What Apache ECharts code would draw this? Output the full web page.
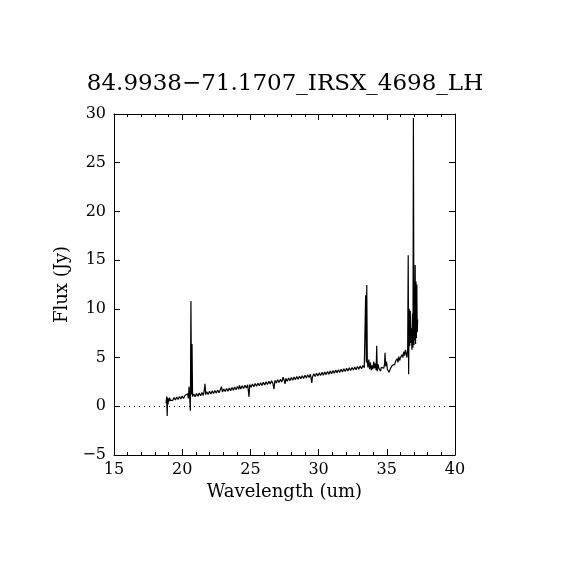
<!DOCTYPE html>
<html>
<head>
<meta charset="utf-8">
<script src="https://cdn.jsdelivr.net/npm/echarts@6/dist/echarts.min.js"></script>
<style>
  html, body { margin: 0; padding: 0; background: #fff; }
  #chart { width: 570px; height: 570px; }
</style>
</head>
<body>
<div id="chart"></div>
<script>
// spectrum (um, Jy)
const wavelength = [
  18.82, 18.86, 18.90, 18.93, 18.96, 19.00, 19.04, 19.08, 19.12, 19.2,
  19.3, 19.4, 19.5, 19.6, 19.7, 19.8, 19.9, 20.0, 20.1, 20.2,
  20.3, 20.4, 20.45, 20.5, 20.55, 20.6, 20.64, 20.68, 20.72, 20.76,
  20.85, 20.95, 21.05, 21.15, 21.25, 21.35, 21.45, 21.55, 21.62, 21.67,
  21.72, 21.8, 21.9, 22.0, 22.1, 22.2, 22.3, 22.4, 22.5, 22.6,
  22.7, 22.8, 22.88, 22.95, 23.05, 23.15, 23.25, 23.35, 23.45, 23.55,
  23.65, 23.75, 23.85, 23.95, 24.05, 24.15, 24.2, 24.3, 24.4, 24.5,
  24.6, 24.7, 24.8, 24.9, 24.95, 25.05, 25.15, 25.25, 25.35, 25.45,
  25.55, 25.65, 25.75, 25.85, 25.95, 26.05, 26.15, 26.25, 26.35, 26.45,
  26.55, 26.65, 26.73, 26.8, 26.9, 27.0, 27.1, 27.2, 27.3, 27.4,
  27.5, 27.54, 27.6, 27.7, 27.8, 27.9, 28.0, 28.1, 28.2, 28.3,
  28.4, 28.5, 28.6, 28.7, 28.8, 28.9, 29.0, 29.1, 29.2, 29.3,
  29.4, 29.5, 29.55, 29.65, 29.75, 29.85, 29.95, 30.05, 30.15, 30.25,
  30.35, 30.45, 30.55, 30.65, 30.75, 30.85, 30.95, 31.05, 31.15, 31.25,
  31.35, 31.45, 31.55, 31.65, 31.75, 31.85, 31.95, 32.05, 32.15, 32.25,
  32.35, 32.45, 32.55, 32.65, 32.75, 32.85, 32.95, 33.05, 33.15, 33.25,
  33.35, 33.45, 33.5, 33.53, 33.57, 33.62, 33.68, 33.74, 33.8, 33.86,
  33.92, 33.98, 34.04, 34.1, 34.16, 34.22, 34.26, 34.3, 34.36, 34.42,
  34.48, 34.54, 34.6, 34.66, 34.72, 34.78, 34.84, 34.87, 34.92, 34.98,
  35.04, 35.1, 35.16, 35.22, 35.28, 35.34, 35.4, 35.46, 35.52, 35.58,
  35.64, 35.7, 35.76, 35.82, 35.88, 35.94, 36.0, 36.06, 36.12, 36.18,
  36.24, 36.3, 36.36, 36.42, 36.48, 36.53, 36.57, 36.6, 36.64, 36.68,
  36.72, 36.76, 36.8, 36.84, 36.88, 36.92, 36.95, 36.99, 37.02, 37.05,
  37.08, 37.11, 37.14, 37.17, 37.2, 37.23, 37.26
];
const flux = [
  0.3, 1.0, -1.0, 0.9, 0.2, 0.8, 0.5, 0.9, 0.6, 0.75,
  0.6, 0.9, 0.65, 0.95, 0.7, 1.0, 0.75, 1.05, 0.8, 1.1,
  0.9, 1.3, 0.8, 2.0, 0.9, -0.45, 10.8, 1.2, 6.4, 1.0,
  1.25, 0.98, 1.32, 1.03, 1.37, 1.07, 1.41, 1.12, 1.7, 2.3,
  1.2, 1.49, 1.21, 1.54, 1.26, 1.58, 1.31, 1.63, 1.35, 1.68,
  1.4, 1.72, 2.0, 1.46, 1.78, 1.51, 1.83, 1.55, 1.88, 1.6,
  1.93, 1.65, 1.97, 1.7, 2.02, 1.74, 2.15, 1.78, 2.11, 1.83,
  2.15, 1.87, 2.2, 0.97, 2.23, 1.96, 2.28, 2.0, 2.33, 2.05,
  2.37, 2.1, 2.42, 2.14, 2.47, 2.19, 2.51, 2.24, 2.56, 2.29,
  2.61, 2.33, 1.77, 2.67, 2.39, 2.72, 2.44, 2.76, 2.49, 3.0,
  2.55, 2.3, 2.86, 2.58, 2.9, 2.63, 2.95, 2.67, 3.0, 2.72,
  3.05, 2.77, 3.09, 2.82, 3.14, 2.86, 3.19, 2.91, 3.23, 2.96,
  3.28, 2.4, 3.01, 3.34, 3.06, 3.38, 3.11, 3.43, 3.15, 3.48,
  3.2, 3.52, 3.25, 3.57, 3.29, 3.62, 3.34, 3.66, 3.39, 3.71,
  3.44, 3.76, 3.48, 3.81, 3.53, 3.85, 3.58, 3.9, 3.62, 3.95,
  3.67, 3.99, 3.72, 4.04, 3.76, 4.09, 3.81, 4.13, 3.86, 4.18,
  3.95, 11.4, 4.5, 12.45, 4.6, 4.0, 4.8, 3.8, 4.5, 3.7,
  4.2, 3.8, 4.6, 3.9, 4.4, 3.7, 6.2, 3.6, 4.3, 3.9,
  4.1, 3.6, 4.0, 3.8, 4.2, 3.9, 4.4, 5.5, 4.1, 4.6,
  3.8, 4.0, 3.5, 3.45, 3.9, 3.8, 4.2, 4.0, 4.4, 4.3,
  4.6, 4.4, 4.9, 4.5, 5.1, 4.7, 5.0, 4.8, 5.3, 5.0,
  5.6, 5.2, 5.8, 5.4, 5.0, 5.9, 15.5, 3.3, 10.0, 6.2,
  9.8, 6.5, 8.0, 5.8, 9.5, 6.0, 29.6, 6.3, 10.5, 6.8,
  14.5, 6.4, 12.8, 7.0, 12.5, 7.6, 8.9
];

const title = '84.9938\u221271.1707_IRSX_4698_LH';
const xName = 'Wavelength (um)';
const yName = 'Flux (Jy)';

const font = 'DejaVu Serif';
const minus = v => String(v).replace('-', '\u2212');

const chart = echarts.init(document.getElementById('chart'));

const tickX = {
  min: 15, max: 40, interval: 5,
  axisLine: { show: true, onZero: false, lineStyle: { color: '#000', width: 1 } },
  axisTick: { show: true, inside: true, length: 6, lineStyle: { color: '#000' } },
  minorTick: { show: true, splitNumber: 5, length: 3, lineStyle: { color: '#000' } },
  splitLine: { show: false }
};
const tickY = {
  min: -5, max: 30, interval: 5,
  axisLine: { show: true, onZero: false, lineStyle: { color: '#000', width: 1 } },
  axisTick: { show: true, inside: true, length: 6, lineStyle: { color: '#000' } },
  splitLine: { show: false }
};

const option = {
  animation: false,
  backgroundColor: '#fff',
  title: {
    text: title,
    left: 'center',
    top: 68,
    textStyle: { fontFamily: font, fontSize: 23, fontWeight: 'normal', color: '#000' }
  },
  grid: { left: 114, right: 115, top: 114, bottom: 115, containLabel: false },
  xAxis: [
    Object.assign({}, tickX, {
      type: 'value', position: 'bottom',
      name: xName, nameLocation: 'middle', nameGap: 28,
      nameTextStyle: { fontFamily: font, fontSize: 18, color: '#000' },
      axisLabel: { fontFamily: font, fontSize: 16, color: '#000', margin: 7 }
    }),
    Object.assign({}, tickX, {
      type: 'value', position: 'top', axisLabel: { show: false }
    })
  ],
  yAxis: [
    Object.assign({}, tickY, {
      type: 'value', position: 'left',
      name: yName, nameLocation: 'middle', nameGap: 40,
      nameTextStyle: { fontFamily: font, fontSize: 18, color: '#000' },
      axisLabel: { fontFamily: font, fontSize: 16, color: '#000', margin: 8, formatter: minus }
    }),
    Object.assign({}, tickY, {
      type: 'value', position: 'right', axisLabel: { show: false }
    })
  ],
  series: [{
    type: 'line',
    xAxisIndex: 0,
    yAxisIndex: 0,
    showSymbol: false,
    symbol: 'none',
    lineStyle: { color: '#000', width: 1.2 },
    data: wavelength.map((w, i) => [w, flux[i]]),
    markLine: {
      silent: true,
      symbol: 'none',
      label: { show: false },
      lineStyle: { color: '#000', type: [1, 4], width: 1 },
      data: [{ yAxis: 0 }]
    }
  }]
};

chart.setOption(option);
</script>
</body>
</html>
